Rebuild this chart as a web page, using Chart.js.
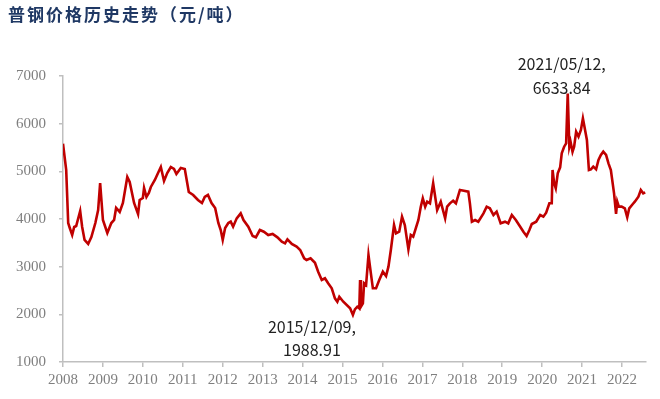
<!DOCTYPE html>
<html>
<head>
<meta charset="utf-8">
<script src="https://cdn.jsdelivr.net/npm/chart.js@4/dist/chart.umd.min.js"></script>
<style>
  html, body { margin: 0; padding: 0; background: #fff; }
  #wrap { width: 660px; height: 399px; position: relative; }
</style>
</head>
<body>
<div id="wrap"><canvas id="steelChart"></canvas></div>
<script>
// axis position of each point (year as printed on the axis) and price
var xPos = [
  2008.00, 2008.08, 2008.13, 2008.17, 2008.23, 2008.28, 2008.33, 2008.43, 2008.48, 2008.54,
  2008.63, 2008.71, 2008.81, 2008.88, 2008.93, 2009.00, 2009.11, 2009.21, 2009.28, 2009.33,
  2009.42, 2009.50, 2009.61, 2009.67, 2009.78, 2009.88, 2009.92, 2010.00, 2010.03, 2010.09,
  2010.15, 2010.20, 2010.30, 2010.38, 2010.45, 2010.53, 2010.61, 2010.70, 2010.78, 2010.84,
  2010.95, 2011.05, 2011.15, 2011.26, 2011.38, 2011.48, 2011.55, 2011.63, 2011.72, 2011.81,
  2011.89, 2011.95, 2012.00, 2012.06, 2012.14, 2012.20, 2012.26, 2012.35, 2012.45, 2012.52,
  2012.64, 2012.75, 2012.83, 2012.93, 2013.03, 2013.14, 2013.25, 2013.37, 2013.48, 2013.56,
  2013.62, 2013.73, 2013.85, 2013.94, 2014.04, 2014.10, 2014.20, 2014.31, 2014.39, 2014.48,
  2014.56, 2014.64, 2014.73, 2014.81, 2014.87, 2014.92, 2015.02, 2015.19, 2015.26, 2015.31,
  2015.37, 2015.42, 2015.44, 2015.46, 2015.51, 2015.54, 2015.59, 2015.65, 2015.71, 2015.76,
  2015.84, 2015.92, 2016.01, 2016.09, 2016.15, 2016.21, 2016.29, 2016.34, 2016.42, 2016.49,
  2016.56, 2016.65, 2016.71, 2016.77, 2016.90, 2016.96, 2017.01, 2017.07, 2017.12, 2017.19,
  2017.27, 2017.37, 2017.46, 2017.57, 2017.62, 2017.69, 2017.77, 2017.84, 2017.94, 2018.04,
  2018.15, 2018.19, 2018.24, 2018.32, 2018.40, 2018.53, 2018.61, 2018.69, 2018.78, 2018.86,
  2018.96, 2019.07, 2019.15, 2019.24, 2019.34, 2019.45, 2019.53, 2019.61, 2019.68, 2019.74,
  2019.85, 2019.95, 2020.03, 2020.10, 2020.18, 2020.24, 2020.26, 2020.30, 2020.34, 2020.39,
  2020.45, 2020.49, 2020.55, 2020.60, 2020.64, 2020.68, 2020.71, 2020.76, 2020.80, 2020.85,
  2020.91, 2020.97, 2021.02, 2021.12, 2021.17, 2021.22, 2021.28, 2021.35, 2021.41, 2021.47,
  2021.53, 2021.60, 2021.66, 2021.72, 2021.80, 2021.85, 2021.88, 2021.92, 2021.99, 2022.07,
  2022.13, 2022.18, 2022.27, 2022.32, 2022.41, 2022.47, 2022.53, 2022.58
];
var prices = [
  5580, 5030, 3916, 3811, 3664, 3832, 3853, 4168, 3832, 3560,
  3476, 3622, 3916, 4189, 4755, 3979, 3706, 3916, 3979, 4231,
  4147, 4336, 4881, 4776, 4336, 4105, 4399, 4441, 4651, 4462,
  4546, 4672, 4818, 4965, 5091, 4797, 4965, 5091, 5049, 4944,
  5070, 5049, 4567, 4504, 4399, 4336, 4462, 4504, 4336, 4231,
  3916, 3769, 3560, 3811, 3916, 3944, 3839, 4014, 4119, 3979,
  3839, 3644, 3616, 3769, 3734, 3664, 3685, 3616, 3524, 3490,
  3574, 3476, 3420, 3350, 3176, 3140, 3176, 3083, 2895, 2720,
  2756, 2651, 2546, 2336, 2265, 2370, 2265, 2126, 1988.91, 2105,
  2160, 2126, 2720, 2160, 2230, 2651, 2615, 3245, 2860, 2546,
  2546, 2720, 2895, 2804, 3000, 3350, 3874, 3699, 3734, 4049,
  3874, 3364, 3664, 3629, 3979, 4259, 4434, 4259, 4364, 4329,
  4748, 4189, 4364, 4014, 4259, 4329, 4384, 4329, 4609, 4594,
  4573, 4329, 3944, 3979, 3944, 4119, 4259, 4224, 4084, 4154,
  3909, 3944, 3909, 4084, 3979, 3839, 3734, 3644, 3769, 3895,
  3944, 4084, 4049, 4133, 4329, 4329, 5028, 4748, 4643, 4957,
  5084, 5377, 5517, 5587, 6633.84, 5517, 5622, 5412, 5517, 5832,
  5727, 5867, 6112, 5657, 5028, 5042, 5098, 5042, 5238, 5343,
  5412, 5343, 5167, 5028, 4539, 4105, 4364, 4259, 4259, 4224,
  4035, 4224, 4315, 4364, 4469, 4609, 4539, 4560
];
var yearTicks = [2008, 2009, 2010, 2011, 2012, 2013, 2014, 2015, 2016, 2017, 2018, 2019, 2020, 2021, 2022];
var priceTicks = [1000, 2000, 3000, 4000, 5000, 6000, 7000];

var chartTitle = '普钢价格历史走势（元/吨）';
var notes = [
  { index: prices.indexOf(6633.84), lines: ['2021/05/12,', '6633.84'], dx: -6, dy: [-30, -6] },
  { index: prices.indexOf(1988.91), lines: ['2015/12/09,', '1988.91'], dx: -41, dy: [12, 35] }
];

var points = xPos.map(function(x, i) {
  return { x: x, y: prices[i] };
});

var textPlugin = {
  id: 'textPlugin',
  afterDraw: function(chart) {
    var ctx = chart.ctx;
    var xs = chart.scales.x;
    var ys = chart.scales.y;
    ctx.save();
    // title
    ctx.font = 'bold 17px "Noto Sans CJK SC"';
    ctx.fillStyle = '#1f3864';
    ctx.textBaseline = 'middle';
    ctx.textAlign = 'left';
    ctx.letterSpacing = '2px';
    ctx.fillText(chartTitle, 8, 15);
    ctx.letterSpacing = '0px';
    // notes next to the high and low
    ctx.font = '16px "Noto Sans CJK SC"';
    ctx.fillStyle = '#222';
    ctx.textAlign = 'center';
    notes.forEach(function(n) {
      var px = xs.getPixelForValue(xPos[n.index]);
      var py = ys.getPixelForValue(prices[n.index]);
      n.lines.forEach(function(line, j) {
        ctx.fillText(line, px + n.dx, py + n.dy[j]);
      });
    });
    ctx.restore();
  }
};

var ctx = document.getElementById('steelChart').getContext('2d');
var steelChart = new Chart(ctx, {
  type: 'line',
  data: {
    datasets: [{
      label: '普钢价格',
      data: points,
      borderColor: '#c00000',
      borderWidth: 2.6,
      pointRadius: 0,
      tension: 0,
      fill: false
    }]
  },
  options: {
    responsive: true,
    maintainAspectRatio: false,
    animation: false,
    layout: { padding: { top: 76, right: 14, left: 0, bottom: 0 } },
    plugins: {
      legend: { display: false },
      tooltip: { enabled: false }
    },
    scales: {
      x: {
        type: 'linear',
        min: 2008,
        max: 2022.6,
        afterFit: function(s) { s.height = 37; },
        afterBuildTicks: function(s) {
          s.ticks = yearTicks.map(function(v) { return { value: v }; });
        },
        border: { color: '#bfbfbf', width: 1.5 },
        grid: { drawOnChartArea: false, tickLength: 5, color: '#bfbfbf', lineWidth: 1.5 },
        ticks: {
          padding: 4,
          maxRotation: 0,
          autoSkip: false,
          color: '#7f7f7f',
          font: { family: '"Liberation Serif"', size: 15 },
          callback: function(v) { return String(v); }
        }
      },
      y: {
        min: 1000,
        max: 7000,
        afterFit: function(s) { s.width = 63; },
        afterBuildTicks: function(s) {
          s.ticks = priceTicks.map(function(v) { return { value: v }; });
        },
        border: { color: '#bfbfbf', width: 1.5 },
        grid: { drawOnChartArea: false, tickLength: 4, color: '#bfbfbf', lineWidth: 1.5 },
        ticks: {
          padding: 13,
          color: '#7f7f7f',
          font: { family: '"Liberation Serif"', size: 15 },
          callback: function(v) { return String(v); }
        }
      }
    }
  },
  plugins: [textPlugin]
});
</script>
</body>
</html>
